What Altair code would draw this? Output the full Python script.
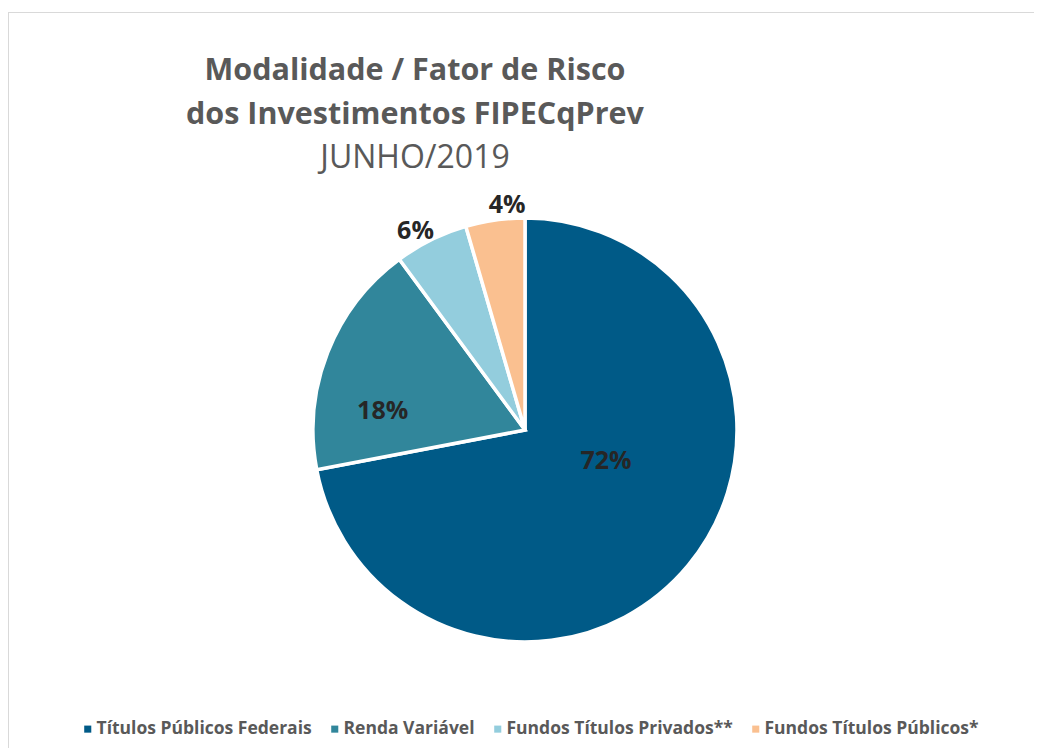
import altair as alt
import pandas as pd

categorias = ["Títulos Públicos Federais", "Renda Variável",
              "Fundos Títulos Privados**", "Fundos Títulos Públicos*"]
valores = [72.0, 17.9, 5.6, 4.5]
rotulos = ["72%", "18%", "6%", "4%"]
ordem = [1, 2, 3, 4]
cores = ["#005A87", "#31869B", "#93CDDD", "#FAC090"]
titulo = ["Modalidade / Fator de Risco", "dos Investimentos FIPECqPrev"]
subtitulo = "JUNHO/2019"

df = pd.DataFrame({"categoria": categorias, "valor": valores,
                   "rotulo": rotulos, "ordem": ordem})
total = sum(valores)

W, H = 1026, 736
CX, CY = 517, 418
R = 212
FONT = "Open Sans"
GRAY = "#595959"

base = alt.Chart(df).transform_window(
    cum="sum(valor)", sort=[alt.SortField("ordem")], frame=[None, 0]
).transform_calculate(
    ini="datum.cum - datum.valor",
    meio="datum.cum - datum.valor / 2",
)

theta_scale = alt.Scale(domain=[0, total])

color = alt.Color(
    "categoria:N",
    sort=categorias,
    scale=alt.Scale(domain=categorias, range=cores),
    legend=alt.Legend(
        title=None, orient="none", legendX=71, legendY=708,
        direction="horizontal", columns=4,
        symbolType="square", symbolSize=50, symbolStrokeWidth=0,
        labelFont=FONT, labelFontWeight="bold", labelFontSize=17.5,
        labelColor=GRAY, columnPadding=14, labelOffset=0, padding=0,
        labelLimit=0,
    ),
)

arcs = base.mark_arc(outerRadius=R, stroke="white", strokeWidth=3.5).encode(
    theta=alt.Theta("ini:Q", scale=theta_scale, stack=None),
    theta2="cum:Q",
    color=color,
    x=alt.value(CX),
    y=alt.value(CY),
)

label_style = {
    "72%": (100, 4, -33),
    "18%": (140, -12, 32),
    "6%": (227, -9, 5),
    "4%": (226, 14, -1),
}


def label(rot):
    r, dx, dy = label_style[rot]
    return base.transform_filter(alt.datum.rotulo == rot).mark_text(
        font=FONT, fontWeight="bold", fontSize=25, color="#262626",
        dx=dx, dy=dy, align="center", baseline="middle",
    ).encode(
        theta=alt.Theta("meio:Q", scale=theta_scale, stack=None),
        radius=alt.value(r),
        text="rotulo:N",
        x=alt.value(CX),
        y=alt.value(CY),
    )


one = alt.Data(values=[{"k": 0}])


def txt(s, y, size, weight):
    return alt.Chart(one).mark_text(
        font=FONT, fontSize=size, fontWeight=weight, color=GRAY,
        baseline="alphabetic", align="center",
    ).encode(text=alt.value(s), x=alt.value(407), y=alt.value(y))


top_rule = alt.Chart(one).mark_rule(color="#D9D9D9", strokeWidth=1).encode(
    x=alt.value(0), x2=alt.value(W + 8), y=alt.value(0.5))
left_rule = alt.Chart(one).mark_rule(color="#D9D9D9", strokeWidth=1).encode(
    x=alt.value(0.5), y=alt.value(0), y2=alt.value(H + 8))

layers = [top_rule, left_rule, arcs] + [label(r) for r in rotulos] + [
    txt(titulo[0], 68, 30.5, "bold"),
    txt(titulo[1], 112, 30.5, "bold"),
    txt(subtitulo, 156, 32, "normal"),
]

chart = alt.layer(*layers).properties(
    width=W, height=H,
    padding={"left": 0, "top": 4, "right": 0, "bottom": 0},
    autosize=alt.AutoSizeParams(type="none"),
).configure_view(stroke=None)

chart.save("out.html", embed_options={"renderer": "svg", "actions": False})
